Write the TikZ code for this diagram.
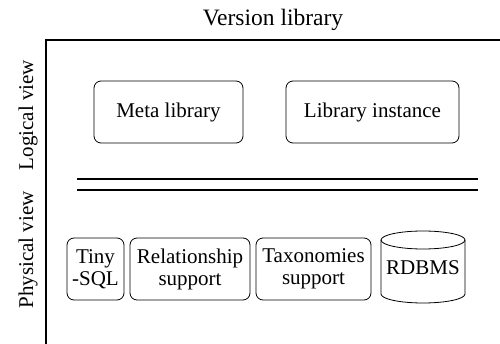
\documentclass[tikz,border=0pt]{standalone}
\usepackage{fontspec}
\setmainfont{Liberation Serif}
\begin{document}
\begin{tikzpicture}[x=1pt,y=-1pt,
  txt/.style={inner sep=0pt,font=\fontsize{21}{22}\selectfont},
  rbox/.style={draw,rounded corners=7pt,line width=0.8pt,inner sep=0pt,align=center,
    minimum height=62pt,font=\fontsize{21}{22}\selectfont},
  frameline/.style={line width=2pt},
  dbline/.style={line width=0.8pt}]
\useasboundingbox (0,0) rectangle (500,344);
% title
\node[txt,font=\fontsize{23.5}{25}\selectfont] (title) at (273,20) {Version library};
% side labels
\node[txt,rotate=90] (logical) at (28,115) {Logical view};
\node[txt,rotate=90] (physical) at (28,250) {Physical view};
% frame
\draw[frameline] (46,344) -- (46,40) -- (500,40);
% separator
\draw[frameline] (77,179) -- (478,179);
\draw[frameline] (77,190) -- (478,190);
% logical boxes
\node[rbox,minimum width=149pt] (meta) at (168.5,112) {Meta library};
\node[rbox,minimum width=173pt] (inst) at (372.5,112) {Library instance};
% physical boxes
\node[rbox,minimum width=57pt] (tiny) at (95.5,269) {Tiny\\-SQL};
\node[rbox,minimum width=120pt] (rel) at (190,269) {Relationship\\support};
\node[rbox,minimum width=115pt] (tax) at (313.5,269) {Taxonomies\\support};
% cylinder
\draw[dbline] (381,240) -- (381,294) arc[start angle=180,end angle=0,x radius=42,y radius=9] -- (465,240);
\draw[dbline] (423,240) ellipse [x radius=42, y radius=9];
\node[txt] (rdbms) at (423,268) {RDBMS};
\end{tikzpicture}
\end{document}
